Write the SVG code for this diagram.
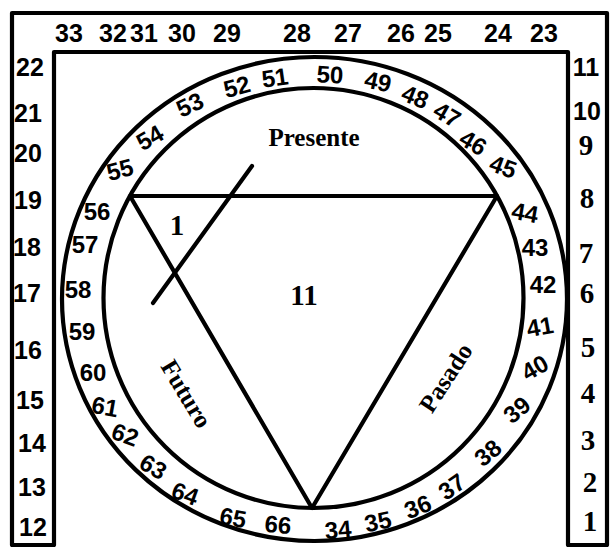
<svg xmlns="http://www.w3.org/2000/svg" width="610" height="547" viewBox="0 0 610 547">
<style>
.ln{fill:none;stroke:#000;stroke-width:4.2;stroke-linejoin:round;stroke-linecap:round}
.n{font-family:"Liberation Sans",Arial,sans-serif;font-weight:bold;font-size:25px;fill:#000;text-anchor:middle}
.r{font-family:"Liberation Sans",Arial,sans-serif;font-weight:bold;font-size:24px;fill:#000;text-anchor:middle}
.s{font-family:"Liberation Serif","Times New Roman",serif;font-weight:bold;font-size:29px;fill:#000;text-anchor:middle}
.w{font-family:"Liberation Serif","Times New Roman",serif;font-weight:bold;font-size:25px;fill:#000;text-anchor:middle}
</style>
<rect width="610" height="547" fill="#fff"/>
<g id="frame">
<path class="ln" d="M12,545 V13 H607 V545 H568 V52 H54 V545 Z"/>
</g>
<g id="top-strip">
<text class="n" x="69" y="42">33</text>
<text class="n" x="113" y="42">32</text>
<text class="n" x="144" y="42">31</text>
<text class="n" x="182" y="42">30</text>
<text class="n" x="227" y="42">29</text>
<text class="n" x="297" y="42">28</text>
<text class="n" x="348" y="42">27</text>
<text class="n" x="401" y="42">26</text>
<text class="n" x="438" y="42">25</text>
<text class="n" x="498" y="42">24</text>
<text class="n" x="544" y="42">23</text>
</g>
<g id="left-strip">
<text class="n" x="30" y="76">22</text>
<text class="n" x="28" y="122">21</text>
<text class="n" x="28" y="162">20</text>
<text class="n" x="28" y="209">19</text>
<text class="n" x="27" y="256">18</text>
<text class="n" x="27" y="302">17</text>
<text class="n" x="28" y="359">16</text>
<text class="n" x="30" y="409">15</text>
<text class="n" x="32" y="452">14</text>
<text class="n" x="32" y="496">13</text>
<text class="n" x="33" y="536">12</text>
</g>
<g id="right-strip">
<text class="n" x="586" y="76">11</text>
<text class="n" x="587" y="120">10</text>
<text class="s" x="586" y="155">9</text>
<text class="s" x="587" y="208">8</text>
<text class="s" x="586" y="263">7</text>
<text class="s" x="587" y="303">6</text>
<text class="s" x="588" y="357">5</text>
<text class="s" x="588" y="403">4</text>
<text class="s" x="588" y="450">3</text>
<text class="s" x="590" y="492">2</text>
<text class="s" x="590" y="531">1</text>
</g>
<g id="ring">
<ellipse class="ln" cx="314.5" cy="299" rx="252.5" ry="242"/>
<ellipse class="ln" cx="313.5" cy="298" rx="210" ry="210"/>
</g>
<g id="ring-labels">
<text class="r" transform="translate(338,530) rotate(-5)" y="8">34</text>
<text class="r" transform="translate(378,522) rotate(-12)" y="8">35</text>
<text class="r" transform="translate(418,507) rotate(-22)" y="8">36</text>
<text class="r" transform="translate(452,487) rotate(-35)" y="8">37</text>
<text class="r" transform="translate(488,453) rotate(-40)" y="8">38</text>
<text class="r" transform="translate(517,410) rotate(-40)" y="8">39</text>
<text class="r" transform="translate(535,368) rotate(-30)" y="8">40</text>
<text class="r" transform="translate(540,327) rotate(-10)" y="8">41</text>
<text class="r" transform="translate(543,285)" y="8">42</text>
<text class="r" transform="translate(535,248)" y="8">43</text>
<text class="r" transform="translate(525,213) rotate(10)" y="8">44</text>
<text class="r" transform="translate(503,167) rotate(20)" y="8">45</text>
<text class="r" transform="translate(473,143) rotate(30)" y="8">46</text>
<text class="r" transform="translate(447,115) rotate(30)" y="8">47</text>
<text class="r" transform="translate(415,97) rotate(22)" y="8">48</text>
<text class="r" transform="translate(378,82) rotate(12)" y="8">49</text>
<text class="r" transform="translate(330,75) rotate(3)" y="8">50</text>
<text class="r" transform="translate(275,78) rotate(-8)" y="8">51</text>
<text class="r" transform="translate(237,87) rotate(-15)" y="8">52</text>
<text class="r" transform="translate(190,105) rotate(-25)" y="8">53</text>
<text class="r" transform="translate(150,138) rotate(-30)" y="8">54</text>
<text class="r" transform="translate(120,170) rotate(-15)" y="8">55</text>
<text class="r" transform="translate(97,212)" y="8">56</text>
<text class="r" transform="translate(85,245)" y="8">57</text>
<text class="r" transform="translate(78,290)" y="8">58</text>
<text class="r" transform="translate(82,332)" y="8">59</text>
<text class="r" transform="translate(93,373)" y="8">60</text>
<text class="r" transform="translate(105,407) rotate(10)" y="8">61</text>
<text class="r" transform="translate(125,435) rotate(20)" y="8">62</text>
<text class="r" transform="translate(153,467) rotate(30)" y="8">63</text>
<text class="r" transform="translate(185,494) rotate(20)" y="8">64</text>
<text class="r" transform="translate(233,518) rotate(10)" y="8">65</text>
<text class="r" transform="translate(278,525) rotate(5)" y="8">66</text>
</g>
<g id="triangle">
<path class="ln" d="M130,196 L497,196 L312,508 Z" stroke-width="4.5"/>
</g>
<g id="cross-line">
<line class="ln" x1="252" y1="166" x2="153" y2="303"/>
</g>
<g id="labels">
<text class="w" x="314" y="146">Presente</text>
<text class="w" transform="translate(186,394) rotate(59)" y="8">Futuro</text>
<text class="w" transform="translate(446,378) rotate(-57)" y="8">Pasado</text>
<text class="s" x="177" y="235" font-size="30">1</text>
<text class="s" x="304" y="305" font-size="38">11</text>
</g>
</svg>
